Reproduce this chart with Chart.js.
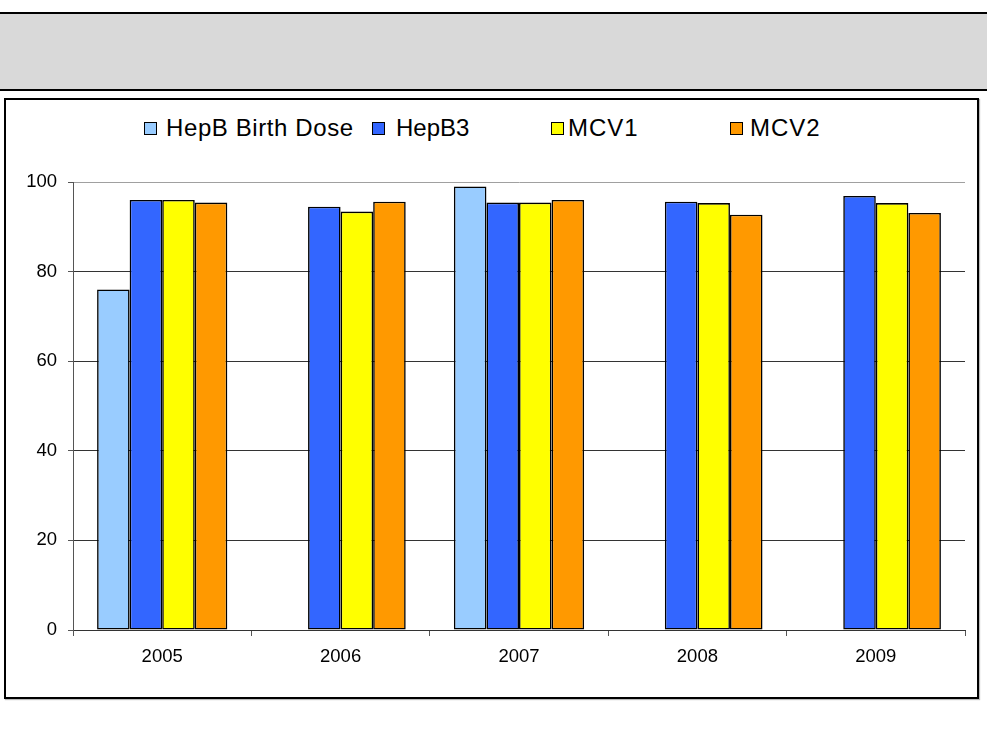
<!DOCTYPE html>
<html>
<head>
<meta charset="utf-8">
<script src="https://cdn.jsdelivr.net/npm/chart.js@4"></script>
<style>
  body { margin: 0; background: #fff; font-family: "Liberation Sans", Arial, sans-serif; }
  #wrap { position: relative; width: 987px; height: 750px; overflow: hidden; }
  .band { position: absolute; left: 0; top: 12px; width: 987px; height: 75px;
          background: #d9d9d9; border-top: 2px solid #000; border-bottom: 2px solid #000; }
  .frame { position: absolute; left: 4px; top: 98px; width: 971px; height: 597px;
           border: 2px solid #000; box-shadow: 1px 1px 1px #bbb; }
  #myChart { position: absolute; left: 0; top: 0; }
  .leg { position: absolute; top: 116px; height: 24px; font-size: 24px; line-height: 24px; color: #000; white-space: nowrap; }
  .leg .box { position: absolute; top: 6px; left: 0; width: 11px; height: 11px; border: 1px solid #000; }
  .leg .txt { position: absolute; top: 0; }
</style>
</head>
<body>
<div id="wrap">
  <div class="band"></div>
  <div class="frame"></div>
  <div id="legend"></div>
  <canvas id="myChart" width="987" height="750"></canvas>
</div>
<script>
// data
const years = ['2005', '2006', '2007', '2008', '2009']
const seriesNames = ['HepB Birth Dose', 'HepB3', 'MCV1', 'MCV2']
const hepbBirth = [76, null, 99, null, null]
const hepb3 = [96, 94.5, 95.4, 95.6, 96.9]
const mcv1 = [96, 93.4, 95.4, 95.3, 95.3]
const mcv2 = [95.4, 95.6, 96, 92.7, 93.1]
const yTicks = [0, 20, 40, 60, 80, 100]

const colors = ['#99ccff', '#3366ff', '#ffff00', '#ff9900']
const allValues = [hepbBirth, hepb3, mcv1, mcv2]

// legend layout (box x, text offset, letter spacing)
const legendBoxX = [144, 372, 551, 730]
const legendTxtGap = [22, 24, 17, 20]
const legendSpacing = [0.6, 0, 1, 1]

const legendDiv = document.getElementById('legend')
for (let i = 0; i < seriesNames.length; i++) {
    let item = document.createElement('div')
    item.className = 'leg'
    item.style.left = legendBoxX[i] + 'px'
    let box = document.createElement('span')
    box.className = 'box'
    box.style.background = colors[i]
    let txt = document.createElement('span')
    txt.className = 'txt'
    txt.style.left = legendTxtGap[i] + 'px'
    txt.style.letterSpacing = legendSpacing[i] + 'px'
    txt.textContent = seriesNames[i]
    item.appendChild(box)
    item.appendChild(txt)
    legendDiv.appendChild(item)
}

const datasets = allValues.map((vals, i) => ({
    label: seriesNames[i],
    data: vals,
    backgroundColor: colors[i],
    borderColor: '#000',
    borderWidth: 1.6,
    borderSkipped: false,
    barPercentage: 1,
    categoryPercentage: 0.73
}))

const fontFam = '"Liberation Sans", Arial, sans-serif'

const config = {
    type: 'bar',
    data: { labels: years, datasets: datasets },
    options: {
        responsive: false,
        animation: false,
        devicePixelRatio: 1,
        layout: { padding: { left: 0, top: 182, right: 22, bottom: 80 } },
        plugins: {
            legend: { display: false },
            title: { display: false },
            tooltip: { enabled: false }
        },
        scales: {
            x: {
                offset: true,
                afterFit: (s) => { s.height = 40 },
                grid: {
                    offset: true,
                    color: (ctx) => ctx.index === years.length ? '#a0a0a0' : 'rgba(0,0,0,0)',
                    tickColor: '#555',
                    tickLength: 6,
                    lineWidth: 1
                },
                border: { color: '#333', width: 1 },
                ticks: { color: '#000', padding: 10, font: { family: fontFam, size: 18.5 } }
            },
            y: {
                min: 0,
                max: 100,
                afterFit: (s) => { s.width = 73 },
                afterBuildTicks: (s) => { s.ticks = yTicks.map(v => ({ value: v })) },
                grid: {
                    color: (ctx) => ctx.tick && ctx.tick.value === 100 ? '#a0a0a0' : '#333',
                    tickColor: '#555',
                    tickLength: 5,
                    lineWidth: 1
                },
                border: { color: '#555', width: 1 },
                ticks: { color: '#000', padding: 11, font: { family: fontFam, size: 18.5 } }
            }
        }
    }
}

const chart1 = new Chart(document.getElementById('myChart'), config)
</script>
</body>
</html>
